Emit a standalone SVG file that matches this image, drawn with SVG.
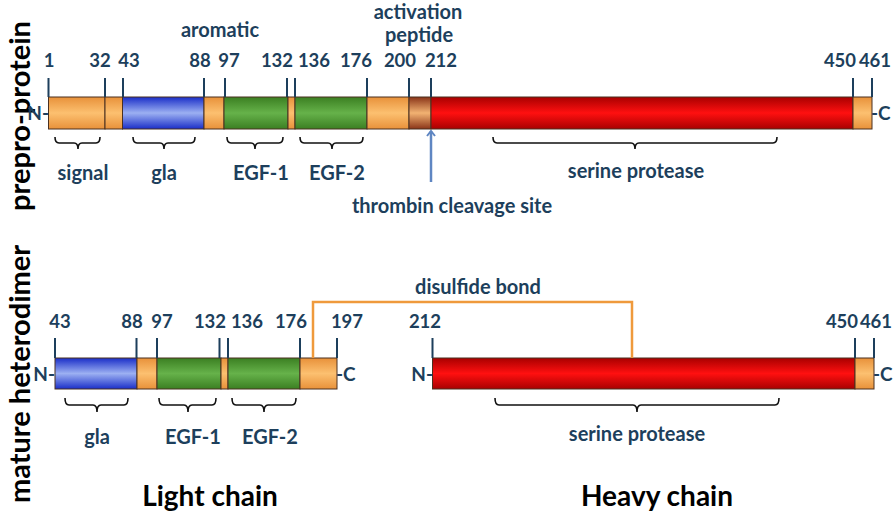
<svg xmlns="http://www.w3.org/2000/svg" width="896" height="512" viewBox="0 0 896 512">
<defs>
<linearGradient id="gOr" x1="0" y1="0" x2="0" y2="1"><stop offset="0" stop-color="#e8913a"/><stop offset="0.5" stop-color="#fcc070"/><stop offset="1" stop-color="#e8913a"/></linearGradient>
<linearGradient id="gBl" x1="0" y1="0" x2="0" y2="1"><stop offset="0" stop-color="#1a2ec8"/><stop offset="0.5" stop-color="#9cb0f2"/><stop offset="1" stop-color="#1a2ec8"/></linearGradient>
<linearGradient id="gGr" x1="0" y1="0" x2="0" y2="1"><stop offset="0" stop-color="#3b7f22"/><stop offset="0.5" stop-color="#66b24a"/><stop offset="1" stop-color="#3b7f22"/></linearGradient>
<linearGradient id="gRd" x1="0" y1="0" x2="0" y2="1"><stop offset="0" stop-color="#a80000"/><stop offset="0.5" stop-color="#ff1010"/><stop offset="1" stop-color="#a80000"/></linearGradient>
<linearGradient id="gBr" x1="0" y1="0" x2="0" y2="1"><stop offset="0" stop-color="#8a3418"/><stop offset="0.5" stop-color="#f2b272"/><stop offset="1" stop-color="#8a3418"/></linearGradient>
<marker id="arr" viewBox="0 0 10 10" refX="9" refY="5" markerWidth="10" markerHeight="10" markerUnits="userSpaceOnUse" orient="auto">
<path d="M4,1 L9,5 L4,9" fill="none" stroke="#5f86c2" stroke-width="2"/>
</marker>
</defs>
<style>
text{font-family:Lato,"Liberation Sans",sans-serif;font-weight:700;fill:#1d3f5c}
.n{font-size:18.5px;text-anchor:middle}
.l{font-size:20px;text-anchor:middle}
.big{font-size:28px;fill:#000;text-anchor:middle}
.vt{font-size:29px;fill:#000;text-anchor:middle}
.seg{stroke:#4a3020;stroke-width:1}
.or{fill:url(#gOr)}.bl{fill:url(#gBl)}.gr{fill:url(#gGr)}.rd{fill:url(#gRd)}.br{fill:url(#gBr)}
.tick{stroke:#1d3f5c;stroke-width:2}
.brace{fill:none;stroke:#111;stroke-width:1.6}
</style>
<rect width="896" height="512" fill="#fff"/>

<text class="vt" transform="translate(30,116) rotate(-90)">prepro-protein</text>
<text class="vt" transform="translate(30,374) rotate(-90)">mature heterodimer</text>

<g id="prepro">
<g id="pp-signal"><rect class="seg or" x="48.5" y="97" width="56.5" height="32"/></g>
<g id="pp-link1"><rect class="seg or" x="105" y="97" width="17.5" height="32"/></g>
<g id="pp-gla"><rect class="seg bl" x="122.5" y="97" width="81.5" height="32"/></g>
<g id="pp-aromatic"><rect class="seg or" x="204" y="97" width="20" height="32"/></g>
<g id="pp-egf1"><rect class="seg gr" x="224" y="97" width="64" height="32"/></g>
<g id="pp-link2"><rect class="seg or" x="288" y="97" width="7" height="32"/></g>
<g id="pp-egf2"><rect class="seg gr" x="295" y="97" width="72" height="32"/></g>
<g id="pp-link3"><rect class="seg or" x="367" y="97" width="42" height="32"/></g>
<g id="pp-activation"><rect class="seg br" x="409" y="97" width="22" height="32"/></g>
<g id="pp-protease"><rect class="seg rd" x="431" y="97" width="422" height="32"/></g>
<g id="pp-cterm"><rect class="seg or" x="853" y="97" width="19" height="32"/></g>
<text x="49" y="120" style="font-size:19px;text-anchor:end">N-</text>
<text x="871" y="120" style="font-size:19px">-C</text>
</g>

<g id="pp-ticks">
<path class="tick" d="M48.5,78V97M105,78V97M123,78V97M204,78V97M225,78V97M287,78V97M295,78V97M367,78V97M409,78V97M431,78V97M853,78V97M872,78V97"/>
<text class="n" x="49" y="67">1</text>
<text class="n" x="100" y="67">32</text>
<text class="n" x="129" y="67">43</text>
<text class="n" x="200" y="67">88</text>
<text class="n" x="229" y="67">97</text>
<text class="n" x="277" y="67">132</text>
<text class="n" x="314" y="67">136</text>
<text class="n" x="356" y="67">176</text>
<text class="n" x="400" y="67">200</text>
<text class="n" x="441" y="67">212</text>
<text class="n" x="840" y="67">450</text>
<text class="n" x="875" y="67">461</text>
<text class="l" x="220" y="37">aromatic</text>
<text class="l" x="418" y="19">activation</text>
<text class="l" x="419" y="42">peptide</text>
</g>

<g id="pp-braces">
<path class="brace" d="M55,137Q55,143 59,143L74,143Q78,143 78,149Q78,143 82,143L96,143Q100,143 100,137"/>
<path class="brace" d="M133,137Q133,143 137,143L160,143Q164,143 164,149Q164,143 168,143L191,143Q195,143 195,137"/>
<path class="brace" d="M227,137Q227,143 231,143L251,143Q255,143 255,149Q255,143 259,143L279,143Q283,143 283,137"/>
<path class="brace" d="M300,137Q300,143 304,143L328,143Q332,143 332,149Q332,143 336,143L359,143Q363,143 363,137"/>
<path class="brace" d="M493,137Q493,143 497,143L631,143Q635,143 635,149Q635,143 639,143L773,143Q777,143 777,137"/>
<text class="l" x="83" y="180">signal</text>
<text class="l" x="164" y="180">gla</text>
<text class="l" x="261" y="180">EGF-1</text>
<text class="l" x="337" y="180">EGF-2</text>
<text class="l" x="636" y="178">serine protease</text>
<text class="l" x="452" y="213">thrombin cleavage site</text>
</g>

<g id="light-chain">
<g id="lc-gla"><rect class="seg bl" x="55" y="358" width="82" height="31"/></g>
<g id="lc-link1"><rect class="seg or" x="137" y="358" width="20" height="31"/></g>
<g id="lc-egf1"><rect class="seg gr" x="157" y="358" width="64" height="31"/></g>
<g id="lc-link2"><rect class="seg or" x="221" y="358" width="7" height="31"/></g>
<g id="lc-egf2"><rect class="seg gr" x="228" y="358" width="72" height="31"/></g>
<g id="lc-cterm"><rect class="seg or" x="300" y="358" width="37" height="31"/></g>
<text x="55" y="381" style="font-size:19px;text-anchor:end">N-</text>
<text x="336" y="381" style="font-size:19px">-C</text>
<path class="tick" d="M55,338V358M136.5,338V358M157,338V358M219.5,338V358M228,338V358M300,338V358M337,338V358"/>
<text class="n" x="60" y="328">43</text>
<text class="n" x="132" y="328">88</text>
<text class="n" x="162" y="328">97</text>
<text class="n" x="210" y="328">132</text>
<text class="n" x="247" y="328">136</text>
<text class="n" x="291" y="328">176</text>
<text class="n" x="347" y="328">197</text>
<path class="brace" d="M65,398Q65,405 69,405L93,405Q97,405 97,412Q97,405 101,405L124,405Q128,405 128,398"/>
<path class="brace" d="M159,398Q159,405 163,405L184,405Q188,405 188,412Q188,405 192,405L212,405Q216,405 216,398"/>
<path class="brace" d="M232,398Q232,405 236,405L260,405Q264,405 264,412Q264,405 268,405L292,405Q296,405 296,398"/>
<text class="l" x="97" y="444">gla</text>
<text class="l" x="193" y="444">EGF-1</text>
<text class="l" x="270" y="444">EGF-2</text>
<text class="big" x="210" y="506">Light chain</text>
</g>

<g id="heavy-chain">
<g id="hc-protease"><rect class="seg rd" x="432.5" y="358" width="422.5" height="31"/></g>
<g id="hc-cterm"><rect class="seg or" x="855" y="358" width="19" height="31"/></g>
<text x="433" y="381" style="font-size:19px;text-anchor:end">N-</text>
<text x="873" y="381" style="font-size:19px">-C</text>
<path class="tick" d="M432.5,338V358M855,338V358M874,338V358"/>
<text class="n" x="425" y="328">212</text>
<text class="n" x="842" y="328">450</text>
<text class="n" x="876" y="328">461</text>
<path class="brace" d="M495,398Q495,405 499,405L633,405Q637,405 637,412Q637,405 641,405L775,405Q779,405 779,398"/>
<text class="l" x="637" y="441">serine protease</text>
<text class="big" x="657" y="506">Heavy chain</text>
</g>

<g id="connectors">
<path id="disulfide" d="M313,358V302H632V358" fill="none" stroke="#ef9a3c" stroke-width="2.5"/>
<text class="l" x="478" y="294">disulfide bond</text>
<path id="thrombin-arrow" d="M431,182V131" fill="none" stroke="#5f86c2" stroke-width="2.5" marker-end="url(#arr)"/>
</g>
</svg>
